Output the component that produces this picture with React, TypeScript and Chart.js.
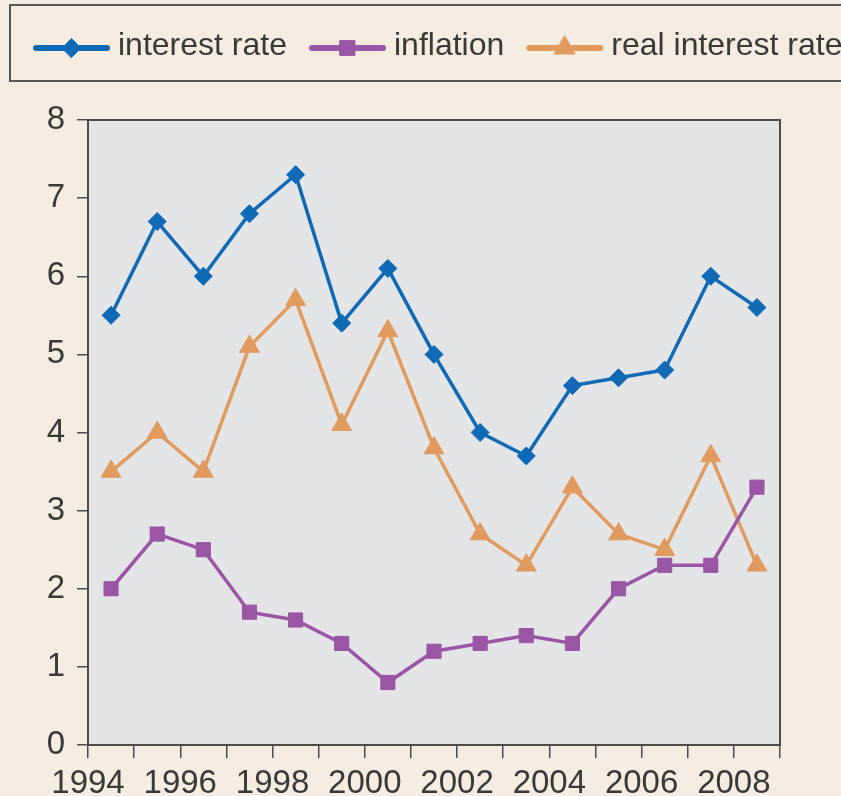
import React, { useEffect, useRef } from 'react';
import { Chart, registerables } from 'chart.js';
import { drawPoint } from 'chart.js/helpers';

Chart.register(...registerables);

// Annual observations, 1994–2008 (per cent)
const years = [1994, 1995, 1996, 1997, 1998, 1999, 2000, 2001, 2002, 2003, 2004, 2005, 2006, 2007, 2008];
const interestRate = [5.5, 6.7, 6.0, 6.8, 7.3, 5.4, 6.1, 5.0, 4.0, 3.7, 4.6, 4.7, 4.8, 6.0, 5.6];
const inflation = [2.0, 2.7, 2.5, 1.7, 1.6, 1.3, 0.8, 1.2, 1.3, 1.4, 1.3, 2.0, 2.3, 2.3, 3.3];
const realInterestRate = [3.5, 4.0, 3.5, 5.1, 5.7, 4.1, 5.3, 3.8, 2.7, 2.3, 3.3, 2.7, 2.5, 3.7, 2.3];

const seriesLabels = ['interest rate', 'inflation', 'real interest rate'];
const seriesColors = ['#0f69b4', '#9a56a4', '#e29b5f'];
const seriesMarkers = ['rectRot', 'rect', 'triangle'];
const markerRadius = [9, 10, 11.5];

const X_MIN = 1994;
const X_MAX = 2009;
const Y_MIN = 0;
const Y_MAX = 8;

const PAGE_BG = '#f5ede1';
const PLOT_BG = '#e4e5e7';
const AXIS = '#4e4d4b';
const TEXT = '#3b3936';
const TICK_FONT = "'Liberation Sans Narrow', 'Arial Narrow', 'Liberation Sans', Arial, sans-serif";
const LEGEND_FONT = "'Liberation Sans', Arial, sans-serif";

// page background, plot panel and its frame
const panelPlugin = {
  id: 'panel',
  beforeDraw(chart: any) {
    const { ctx, chartArea: a, width, height } = chart;
    ctx.save();
    ctx.fillStyle = PAGE_BG;
    ctx.fillRect(0, 0, width, height);
    ctx.fillStyle = PLOT_BG;
    ctx.fillRect(a.left, a.top, a.right - a.left, a.bottom - a.top);
    ctx.restore();
  },
  beforeDatasetsDraw(chart: any) {
    const { ctx, chartArea: a } = chart;
    ctx.save();
    ctx.strokeStyle = AXIS;
    ctx.lineWidth = 2;
    ctx.strokeRect(a.left, a.top, a.right - a.left, a.bottom - a.top);
    ctx.restore();
  },
};

// boxed legend across the top: line + marker, then label
const legendBoxPlugin = {
  id: 'legendBox',
  afterDraw(chart: any) {
    const { ctx, width } = chart;
    ctx.save();
    ctx.strokeStyle = '#5a5753';
    ctx.lineWidth = 2;
    ctx.strokeRect(10, 5, width + 20, 76);

    ctx.font = `32px ${LEGEND_FONT}`;
    ctx.textBaseline = 'alphabetic';
    ctx.textAlign = 'left';
    const lineY = 48;
    const lineLen = 77;
    let x = 33;
    chart.data.datasets.forEach((ds: any) => {
      ctx.strokeStyle = ds.borderColor;
      ctx.fillStyle = ds.borderColor;
      ctx.lineWidth = 6;
      ctx.lineCap = 'round';
      ctx.beginPath();
      ctx.moveTo(x + 3, lineY);
      ctx.lineTo(x + lineLen - 3, lineY);
      ctx.stroke();
      ctx.lineWidth = 1;
      drawPoint(ctx, { pointStyle: ds.pointStyle, radius: ds.pointRadius * 1.05, rotation: 0, borderWidth: 1 } as any, x + lineLen / 2, lineY);
      ctx.fillStyle = TEXT;
      const tx = x + lineLen + 8;
      ctx.fillText(ds.label, tx, 55);
      x = tx + ctx.measureText(ds.label).width + 22;
    });
    ctx.restore();
  },
};

function series(values: number[]) {
  // annual figures sit at the middle of each year
  return years.map((yr, i) => ({ x: yr + 0.5, y: values[i] }));
}

export default function App() {
  const canvasRef = useRef<HTMLCanvasElement | null>(null);

  useEffect(() => {
    document.body.style.margin = '0';
    document.body.style.background = PAGE_BG;
    const canvas = canvasRef.current;
    if (!canvas) return;

    const values = [interestRate, inflation, realInterestRate];
    const chart = new Chart(canvas, {
      type: 'line',
      data: {
        datasets: values.map((v, i) => ({
          label: seriesLabels[i],
          data: series(v),
          borderColor: seriesColors[i],
          backgroundColor: seriesColors[i],
          borderWidth: 3.5,
          pointStyle: seriesMarkers[i] as any,
          pointRadius: markerRadius[i],
          pointBorderWidth: 1,
          pointBorderColor: seriesColors[i],
          pointBackgroundColor: seriesColors[i],
          tension: 0,
          fill: false,
        })),
      },
      options: {
        animation: false,
        responsive: false,
        devicePixelRatio: 1,
        layout: { padding: { top: 120, right: 61, left: 0, bottom: 0 } },
        plugins: {
          legend: { display: false },
          tooltip: { enabled: false },
        },
        scales: {
          x: {
            type: 'linear',
            min: X_MIN,
            max: X_MAX,
            afterFit: (scale: any) => { scale.height = 51; },
            ticks: {
              stepSize: 1,
              autoSkip: false,
              maxRotation: 0,
              padding: 6,
              color: TEXT,
              font: { family: TICK_FONT, size: 33 },
              callback: (v: any) => (Number(v) % 2 === 0 ? String(v) : ''),
            },
            grid: {
              drawOnChartArea: false,
              drawTicks: true,
              tickLength: 13,
              color: AXIS,
              lineWidth: 1.5,
            },
            border: { display: true, color: AXIS, width: 2 },
          },
          y: {
            type: 'linear',
            min: Y_MIN,
            max: Y_MAX,
            afterFit: (scale: any) => { scale.width = 88; },
            ticks: {
              stepSize: 1,
              padding: 12,
              color: TEXT,
              font: { family: TICK_FONT, size: 33 },
            },
            grid: {
              drawOnChartArea: false,
              drawTicks: true,
              tickLength: 11,
              color: AXIS,
              lineWidth: 1.5,
            },
            border: { display: true, color: AXIS, width: 2 },
          },
        },
      },
      plugins: [panelPlugin, legendBoxPlugin],
    });

    return () => chart.destroy();
  }, []);

  return (
    <div style={{ width: 841, height: 796, background: PAGE_BG }}>
      <canvas ref={canvasRef} width={841} height={796} style={{ display: 'block', width: 841, height: 796 }} />
    </div>
  );
}
